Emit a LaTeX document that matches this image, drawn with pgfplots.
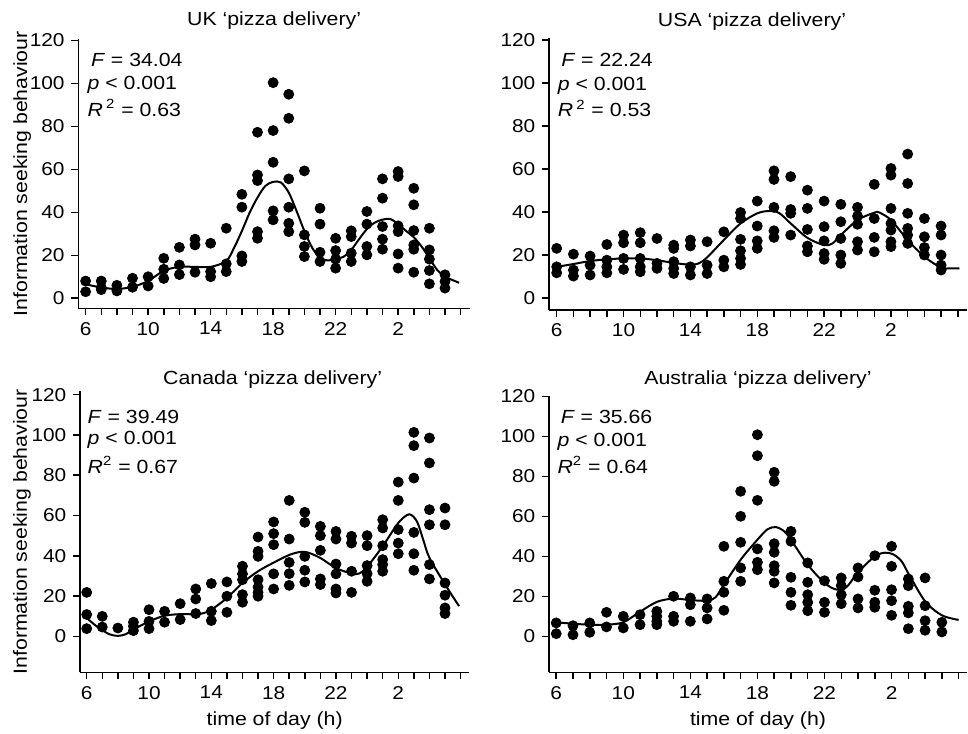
\documentclass[border=0pt]{standalone}
\usepackage{fontspec}
\setmainfont{Liberation Sans}[FakeStretch=1.12]
\usepackage{pgfplots}
\pgfplotsset{compat=1.18}

\begin{document}
\fontsize{9.5}{12}\selectfont
\begin{tikzpicture}
\path[use as bounding box] (0,0) rectangle (484pt,-366.5pt);
\tikzset{stat/.style={anchor=base west,inner sep=0,font=\fontsize{9.5}{12}\selectfont}}
\pgfplotsset{
  panel/.style={
    scale only axis, anchor=south west,
    axis x line*=bottom, axis y line*=left,
    axis line style={line width=0.75pt,-,black},
    tick style={line width=0.75pt,black},
    major tick length=3.5pt, tick align=outside,
    xtick={6,7,...,30},
    xticklabels={6,,,,10,,,,14,,,,18,,,,22,,,,2,,,,},
    ytick={0,20,40,60,80,100,120},
    tick label style={font=\fontsize{9.3}{11}\selectfont},
    /pgf/number format/assume math mode=true,
    clip=false,
    every axis title/.style={at={(0.5,1)},anchor=base,font=\fontsize{9.5}{12}\selectfont},
    every axis y label/.style={rotate=90,anchor=center,font=\fontsize{9.5}{12}\selectfont},
    every axis x label/.style={at={(axis description cs:0.5,0)},anchor=base,yshift=-26.8pt,font=\fontsize{9.5}{12}\selectfont},
  },
  dots/.style={only marks, mark=*, mark size=2.5pt, black},
  fitline/.style={smooth, line width=1pt, black, no markers},
}

% ---------------- UK ----------------
\begin{axis}[panel, at={(39.15pt,-154.15pt)}, width=195.85pt, height=134.5pt,
  xmin=5.53, xmax=30.6, ymin=-4.7, ymax=120.6,
  title={UK ‘pizza delivery’}, title style={yshift=7pt},
  ylabel={Information seeking behaviour},
  ylabel style={at={(axis description cs:-0.143,0.5)}}]
\addplot[dots] table {
6 8
6 3
7 8
7 5
7 4
8 6
8 3.4
9 9.3
9 5.1
10 10
10 5.7
11 18.6
11 13.5
11 9.2
12 23.7
12 15.5
12 11
13 27.5
13 24.8
13 12.1
14 25.6
14 12.4
14 10
15 32.6
15 16
15 12.4
16 48.4
16 42.4
16 19.7
16 17.1
17 77.3
17 57.4
17 54.8
17 31
17 27.9
18 100.4
18 78.1
18 63.3
18 40.7
18 36.5
19 95
19 83.8
19 55.6
19 42.4
19 34.9
19 31
20 59.3
20 29.5
20 24.1
20 19.4
21 41.9
21 34.5
21 21.4
21 17.1
22 27.9
22 22.2
22 18.2
22 14
23 31.4
23 28.7
23 21
23 17.1
24 40.4
24 34.5
24 24.1
24 20.2
25 55.6
25 46.6
25 33.4
25 27.5
25 22.8
26 59
26 56.7
26 33.7
26 31
26 20.6
26 14
27 51.2
27 43.5
27 31.5
27 24.8
27 22.8
27 12.1
28 32.6
28 22.5
28 18.2
28 12.9
28 6.7
29 10.9
29 7.8
29 4.7
};
\addplot[fitline] table {
6 6.5
7 5
8 4.3
9 5.3
10 8
11 12.8
12 14.6
13 14.6
14 14.6
15 17.3
15.5 23.5
16 31.3
16.5 39.9
17 46.9
17.5 52.3
18 54.2
18.5 53.9
19 49.2
19.5 40.6
20 31.3
20.5 23.5
21 18.8
21.5 17.6
22 18.2
22.5 19.3
23 22.5
23.5 27.5
24 32.2
24.5 35.2
25 36.6
25.5 36.9
26 34.5
26.5 31.4
27 28.4
27.5 24.1
28 18.6
28.5 13.2
29 10
29.5 8.4
29.9 7.2
};
\node[stat] at (axis cs:6.32,107.9) {\textit{F} = 34.04};
\node[stat] at (axis cs:6.1,97.0) {\textit{p} < 0.001};
\node[stat] at (axis cs:6.1,84.6) {\textit{R}\,\textsuperscript{2} = 0.63};
\end{axis}

% ---------------- USA ----------------
\begin{axis}[panel, at={(274.5pt,-155pt)}, width=209pt, height=135.85pt,
  xmin=5.54, xmax=30.55, ymin=-5.7, ymax=120.8,
  title={USA ‘pizza delivery’}, title style={yshift=5.8pt,xshift=-3pt}]
\addplot[dots] table {
6 23
6 14.4
6 11.6
7 20.3
7 12.9
7 10.1
8 19.4
8 15.2
8 10.6
9 24.8
9 17.5
9 14.4
9 11.6
10 29.2
10 25.6
10 18.3
10 13.2
11 30.3
11 25.6
11 18.3
11 14.4
11 12.1
12 27.6
12 16
12 13.7
13 24.5
13 23
13 16.8
13 13.7
13 11.3
14 26.9
14 24.1
14 14.4
14 10.6
15 26.1
15 15.2
15 11.3
16 30.7
16 17.5
16 14.4
17 39.7
17 36.9
17 27.2
17 21.9
17 18.3
17 15.5
18 45
18 33.4
18 26.5
18 23
19 59.1
19 55.1
19 42.1
19 31.2
19 28.1
20 56.4
20 41.1
20 39.3
20 29.2
21 50.1
21 41.6
21 31.8
21 24.1
21 21.4
22 45
22 33.1
22 26.5
22 20.6
22 17.9
23 43.5
23 35.4
23 27.6
23 19.9
23 16
24 42.1
24 38
24 34.2
24 26.1
24 22.2
25 52.8
25 36.9
25 28.1
25 21.4
26 60.2
26 57.1
26 41.6
26 34.6
26 31.5
26 26.1
26 23.8
27 66.9
27 53.2
27 39.3
27 32.3
27 29.2
27 25.3
28 36.9
28 28.4
28 23.4
28 19.9
29 33.4
29 29.2
29 19.9
29 15.2
29 12.9
};
\addplot[fitline] table {
6 14.4
7 15.7
8 17.1
9 17.9
10 18.3
11 18.3
12 17.5
13 16.2
14 15.4
14.5 16
15 18.8
16 26.9
17 34.6
18 39.3
18.7 40.4
19.3 39.5
20 34.6
21 27.9
22 24.5
22.5 25.3
23 29.2
24 36.2
25 39.6
25.3 39.7
26 36.2
27 26.9
28 19.1
29 14
29.5 13.7
30.1 13.7
};
\node[stat] at (axis cs:6.25,107.6) {\textit{F} = 22.24};
\node[stat] at (axis cs:6.04,96.7) {\textit{p} < 0.001};
\node[stat] at (axis cs:6.04,84.3) {\textit{R}\,\textsuperscript{2} = 0.53};
\end{axis}

% ---------------- Canada ----------------
\begin{axis}[panel, at={(40pt,-336.15pt)}, width=194.65pt, height=140.5pt,
  xmin=5.57, xmax=30.56, ymin=-17.9, ymax=121.7,
  title={Canada ‘pizza delivery’}, title style={yshift=3.3pt,xshift=-1pt},
  ylabel={Information seeking behaviour},
  ylabel style={at={(axis description cs:-0.149,0.5)}},
  xlabel={time of day (h)}]
\addplot[dots] table {
6 21.8
6 10.8
6 3.8
7 9.9
7 4.6
8 4.1
9 7
9 5
9 2.8
10 13.2
10 7.4
10 3.8
11 12.4
11 7
12 16.2
12 8.3
13 23.5
13 18.5
13 11.3
14 26.2
14 12.4
14 7.8
15 27
15 19.9
15 11.9
16 34.8
16 31
16 28.1
16 20.7
16 16.9
17 49.3
17 42.2
17 39.7
17 28.1
17 24.5
17 21.8
17 19.9
18 56.8
18 51
18 45.5
18 31
18 23.5
19 67.5
19 48.3
19 36.7
19 31.1
19 25.3
20 61.6
20 56.6
20 39.7
20 32.8
20 27
21 54.6
21 50
21 42.7
21 28.5
21 25.7
22 52.1
22 48.3
22 35.9
22 31
22 23.5
22 21.5
23 49.7
23 46.3
23 32.3
23 21.8
24 50
24 45
24 35.1
24 31.1
24 27.3
25 57.9
25 53.8
25 45
25 38.1
25 35.6
25 32.3
26 76.6
26 67.5
26 53
26 46.3
26 41
27 101.3
27 94.7
27 78.6
27 51.6
27 41
27 32.8
28 98.5
28 86.1
28 62.9
28 55.4
28 35.6
28 28.5
29 63.7
29 55.4
29 26.5
29 20.4
29 14.1
29 11.3
};
\addplot[fitline] table {
6 9.1
6.5 5.8
7 3
7.5 0.9
8 0.2
8.5 1
9 3.3
10 7.4
11 10.2
12 11
13 10.9
13.5 11.5
14 13.2
15 19
16 26.5
17 32.3
18 36.6
19 40.4
19.7 41.9
20.2 41.6
21 38.9
22 33.9
23 31.2
23.5 31.2
24 34.5
25 44.7
26 56.3
26.7 60.6
27.2 57
27.6 48
28 39
29 25.8
29.9 15
};
\node[stat] at (axis cs:6.04,105.9) {\textit{F} = 39.49};
\node[stat] at (axis cs:6.04,95.2) {\textit{p} < 0.001};
\node[stat] at (axis cs:6.04,81.1) {\textit{R}\textsuperscript{2} = 0.67};
\end{axis}

% ---------------- Australia ----------------
\begin{axis}[panel, at={(274.5pt,-336.15pt)}, width=209pt, height=138.3pt,
  xmin=5.57, xmax=30.5, ymin=-18, ymax=120.3,
  title={Australia ‘pizza delivery’}, title style={yshift=5.5pt},
  xlabel={time of day (h)}]
\addplot[dots] table {
6 6.7
6 1.3
7 5.3
7 0.8
8 6.7
8 2
9 12
9 4.7
10 10
10 4.2
11 10.8
11 5.8
12 12.5
12 10
12 7.5
12 5.8
13 20
13 10
13 7.5
14 19.2
14 15.8
14 7.5
15 18.7
15 14.2
15 8.7
16 45
16 27.5
16 22
16 13
17 72.5
17 60
17 47
17 34.2
17 27.5
18 100.8
18 90.3
18 68
18 43.7
18 37
18 33.3
19 82
19 77.5
19 46.3
19 42
19 35.3
19 32.5
19 26.7
20 52.5
20 47.5
20 29.5
20 22
20 15.5
21 36.7
21 27
21 20.8
21 17
21 12.8
22 27.8
22 17
22 12
23 29.2
23 25.3
23 20.8
23 16.3
24 34.2
24 29.7
24 18.7
24 14.2
25 40.3
25 23
25 17
25 14.5
26 45
26 35
26 23.3
26 17.8
26 10.5
27 28.7
27 25.3
27 15
27 11.7
27 3.8
28 29.2
28 15.3
28 7.8
28 3
29 7
29 2.2
};
\addplot[fitline] table {
6 7
7 6.3
8 5.8
9 5.8
10 7
11 12.3
12 17.2
13 18.9
14 18.1
15 17.8
15.5 19.5
16 25.8
17 38.3
18 48.3
18.6 53.5
19.1 54.6
19.6 52.5
20 48.3
21 35.8
22 26.7
22.7 23.4
23.3 24.5
24 32
25 40
25.6 41.8
26.1 41
26.6 37.5
27 31.5
28 17.5
29 10.5
30 8.2
};
\node[stat] at (axis cs:6.25,106.6) {\textit{F} = 35.66};
\node[stat] at (axis cs:6.06,95) {\textit{p} < 0.001};
\node[stat] at (axis cs:6.06,81.6) {\textit{R}\textsuperscript{2} = 0.64};
\end{axis}
\end{tikzpicture}
\end{document}
